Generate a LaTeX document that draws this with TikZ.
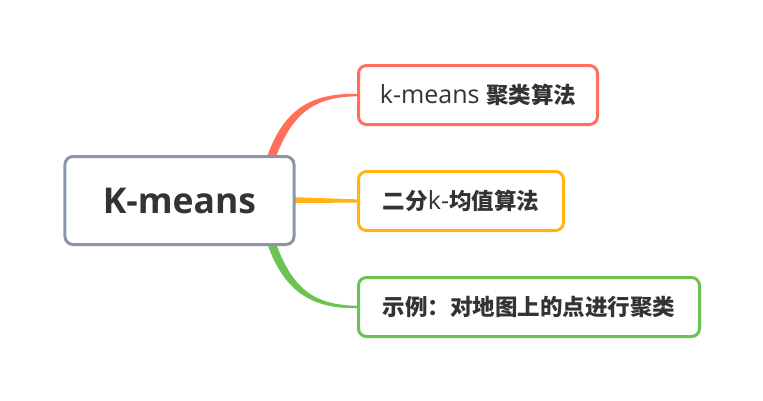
\documentclass[tikz,border=0pt]{standalone}
\usepackage{fontspec}
\setmainfont{Open Sans}
\newfontfamily\cjk{Noto Sans CJK SC}
\usetikzlibrary{calc}
\definecolor{txt}{HTML}{333333}
\definecolor{cred}{HTML}{FF6F5C}
\definecolor{corange}{HTML}{FFB414}
\definecolor{cgreen}{HTML}{6CC352}
\definecolor{cgrey}{HTML}{8A96A8}
\tikzset{
  rootbox/.style={draw=cgrey, line width=3bp, rounded corners=8bp, fill=white,
    minimum width=229bp, minimum height=88bp, inner sep=0pt, text=txt,
    font=\fontsize{35.5bp}{40bp}\selectfont\bfseries},
  subbox/.style={draw=#1, line width=3bp, rounded corners=8bp, fill=white,
    minimum height=59bp, inner sep=0pt, text=txt,
    font=\fontsize{25bp}{30bp}\selectfont},
}
\newcommand{\cj}[1]{{\cjk\bfseries\fontsize{22.5bp}{27bp}\selectfont #1}}
\begin{document}
\begin{tikzpicture}[x=1bp,y=-1bp]
\useasboundingbox (0,0) rectangle (763,400);
\fill[white] (0,0) rectangle (763,400);
% connectors first (behind boxes)
\coordinate (r1) at (270,160);
\coordinate (r2) at (290,200);
\coordinate (r3) at (270,240);
\coordinate (b1) at (358,95);
\coordinate (b2) at (358,201);
\coordinate (b3) at (358,307);
% red tapered
\fill[cred] ($(r1)+(-4,0)$) .. controls (283,108) and (312,93) .. ($(b1)+(0,-1.2)$)
  -- ($(b1)+(0,1.2)$) .. controls (314,97) and (292,112) .. ($(r1)+(4,2)$) -- cycle;
% orange tapered
\fill[corange] ($(r2)+(0,-3)$) -- ($(b2)+(0,-1.6)$) -- ($(b2)+(0,1.6)$) -- ($(r2)+(0,3)$) -- cycle;
% green tapered
\fill[cgreen] ($(r3)+(-4,0)$) .. controls (283,292) and (312,309) .. ($(b3)+(0,1.2)$)
  -- ($(b3)+(0,-1.2)$) .. controls (314,305) and (292,290) .. ($(r3)+(4,-2)$) -- cycle;
\node[rootbox] (root) at (179.5,200.5) {K-means};
\node[subbox=cred, minimum width=239bp] (n1) at (478,95) {k-means \cj{聚类算法}};
\node[subbox=corange, minimum width=205bp] (n2) at (461,201) {\cj{二分}k-\cj{均值算法}};
\node[subbox=cgreen, minimum width=341bp] (n3) at (529,307) {\cj{示例：对地图上的点进行聚类}};
\end{tikzpicture}
\end{document}
